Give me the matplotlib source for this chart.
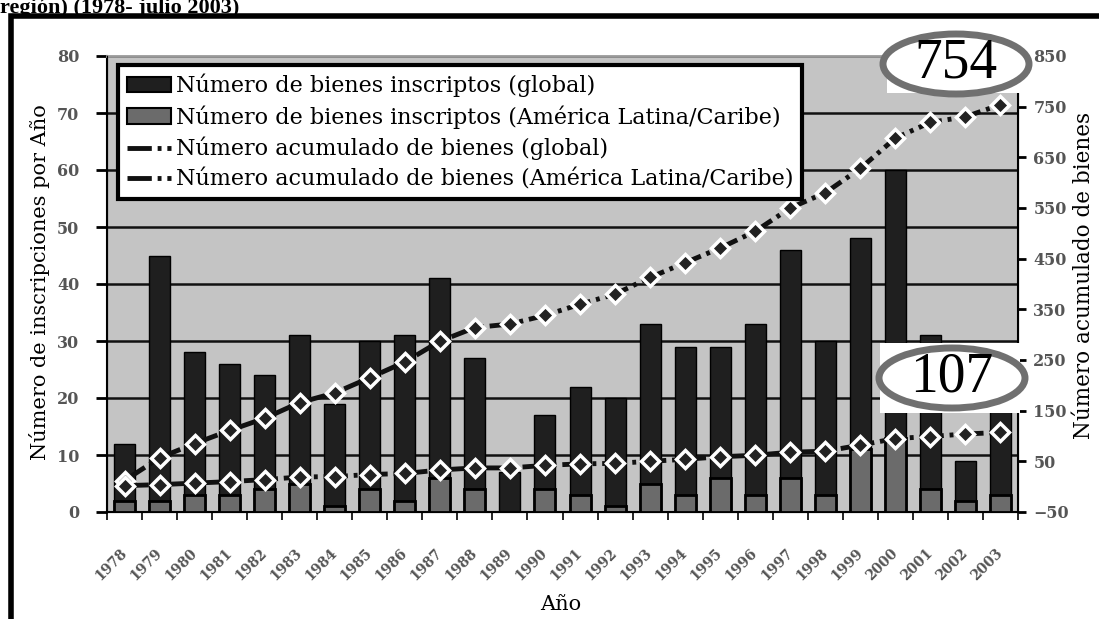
import numpy as np
import matplotlib.pyplot as plt
from matplotlib.patches import Patch, Ellipse, Rectangle
from matplotlib.lines import Line2D

W, H = 1099, 619


def fx(x):
    return x / W


def fy(y):
    return 1 - y / H


years = [str(y) for y in range(1978, 2004)]
global_per_year = [12, 45, 28, 26, 24, 31, 19, 30, 31, 41, 27, 7, 17, 22, 20, 33,
                   29, 29, 33, 46, 30, 48, 60, 31, 9, 24]
la_per_year = [2, 2, 3, 3, 4, 5, 1, 4, 2, 6, 4, 0, 4, 3, 1, 5, 3, 6, 3, 6, 3, 11,
               13, 4, 2, 3]
global_cum = [12, 57, 85, 111, 135, 166, 185, 215, 246, 287, 314, 321, 338, 360,
              380, 413, 442, 471, 504, 550, 580, 628, 688, 719, 730, 754]
la_cum = [2, 4, 7, 10, 14, 19, 20, 24, 26, 33, 37, 37, 42, 45, 46, 50, 54, 59, 62,
          68, 70, 82, 95, 99, 104, 107]

labels = ["Número de bienes inscriptos (global)",
          "Número de bienes inscriptos (América Latina/Caribe)",
          "Número acumulado de bienes (global)",
          "Número acumulado de bienes (América Latina/Caribe)"]

serif = "DejaVu Serif"
dash = (0, (5, 1.2, 0.8, 1.2))

fig = plt.figure(figsize=(W / 100, H / 100), dpi=100)
ax = fig.add_axes([fx(107), fy(512), fx(1018) - fx(107), fy(56) - fy(512)])
ax.set_facecolor("#c4c4c4")

x = np.arange(len(years))
ax.bar(x, global_per_year, width=0.6, color="#1f1f1f", edgecolor="black", linewidth=1, zorder=2)
ax.bar(x, la_per_year, width=0.6, color="#6b6b6b", edgecolor="black", linewidth=2, zorder=3)

ax.set_xlim(-0.5, len(years) - 0.5)
ax.set_ylim(0, 80)
ax.set_yticks(range(0, 81, 10))
ax.yaxis.grid(True, color="#111111", linewidth=1.8)
ax.set_axisbelow(True)
ax.tick_params(axis="y", direction="out", length=8, width=2, colors="black",
               labelcolor="#555555", labelsize=11.5, pad=12)
for t in ax.get_yticklabels():
    t.set_fontfamily(serif)
    t.set_fontweight("bold")

ax.set_xticks(x)
ax.set_xticklabels(years, rotation=45, ha="right", va="center", rotation_mode="anchor",
                   fontsize=10, color="#555555", fontweight="bold", family=serif)
ax.tick_params(axis="x", which="major", length=0, pad=28)
ax.set_xticks(np.arange(-0.5, len(years), 1), minor=True)
ax.tick_params(axis="x", which="minor", direction="out", length=6, width=1.2, color="black")

for s in ["left", "bottom"]:
    ax.spines[s].set_color("black")
    ax.spines[s].set_linewidth(1.5)
ax.spines["top"].set_color("#999999")
ax.spines["top"].set_linewidth(2)

ax2 = ax.twinx()
ax2.set_ylim(-50, 850)
ax2.set_yticks(range(-50, 851, 100))
for cum in (global_cum, la_cum):
    ax2.plot(x, cum, color="#111111", linewidth=3.5, linestyle=dash, marker="D",
             markersize=9, markerfacecolor="#222222", markeredgecolor="white",
             markeredgewidth=2.5, zorder=5)
ax2.tick_params(axis="y", direction="out", length=6, width=2, colors="black",
                labelcolor="#555555", labelsize=11.5, pad=5)
for t in ax2.get_yticklabels():
    t.set_fontfamily(serif)
    t.set_fontweight("bold")
ax2.spines["right"].set_color("black")
ax2.spines["right"].set_linewidth(1.5)
ax2.spines["top"].set_visible(False)

handles = [Patch(facecolor="#1f1f1f", edgecolor="black", linewidth=1.5),
           Patch(facecolor="#6b6b6b", edgecolor="black", linewidth=1.5),
           Line2D([], [], color="#111111", linewidth=3.5, linestyle=dash),
           Line2D([], [], color="#111111", linewidth=3.5, linestyle=dash)]
leg = ax2.legend(handles, labels, loc="upper left", bbox_to_anchor=(fx(118), fy(65)),
                 bbox_transform=fig.transFigure, borderaxespad=0, fancybox=False,
                 framealpha=1, edgecolor="black", prop={"family": serif, "size": 16},
                 handlelength=2.0, handletextpad=0.2, labelspacing=0.36, borderpad=0.4)
leg.get_frame().set_linewidth(3)
leg.set_zorder(20)

# axis labels
fig.text(fx(40), fy(282), "Número de inscripciones por Año", rotation=90,
         ha="center", va="center", fontsize=15, family=serif)
fig.text(fx(1084), fy(275), "Número acumulado de bienes", rotation=90,
         ha="center", va="center", fontsize=15.5, family=serif)
fig.text(fx(561), fy(605), "Año", ha="center", va="center", fontsize=15, family=serif)

# title line, only its lower part fits above the frame
fig.text(fx(0), fy(13), "región) (1978- julio 2003)", ha="left", va="baseline",
         fontsize=16, fontweight="bold", family="Liberation Serif")

# outer frame
fig.add_artist(Rectangle((fx(11), -0.05), 1.1, fy(16) + 0.05, transform=fig.transFigure,
                         fill=False, edgecolor="black", linewidth=4, zorder=30))

# highlighted totals
for cx, cy, rx0, ry0, rx1, ry1, txt in [(956, 64, 887, 40, 1020, 93, "754"),
                                       (952, 378, 880, 343, 1020, 413, "107")]:
    fig.add_artist(Rectangle((fx(rx0), fy(ry1)), fx(rx1) - fx(rx0), fy(ry0) - fy(ry1),
                             transform=fig.transFigure, facecolor="white",
                             edgecolor="none", zorder=40))
    fig.add_artist(Ellipse((fx(cx), fy(cy)), 146 / W, 60 / H, transform=fig.transFigure,
                           facecolor="white", edgecolor="#707070", linewidth=5, zorder=41))
    fig.text(fx(cx), fy(cy), txt, ha="center", va="center", fontsize=40,
             family="Liberation Serif", zorder=42)

fig.savefig("out.png", dpi=100)
